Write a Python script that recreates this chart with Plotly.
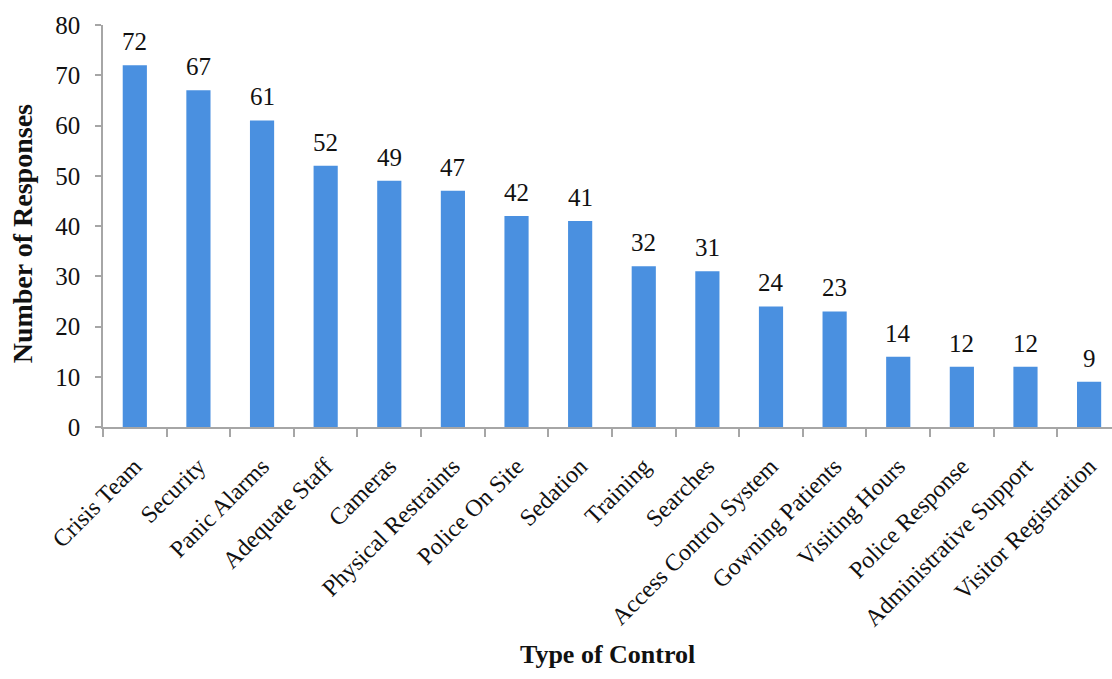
import plotly.graph_objects as go

categories = [
    "Crisis Team", "Security", "Panic Alarms", "Adequate Staff", "Cameras",
    "Physical Restraints", "Police On Site", "Sedation", "Training", "Searches",
    "Access Control System", "Gowning Patients", "Visiting Hours",
    "Police Response", "Administrative Support", "Visitor Registration",
]
responses = [72, 67, 61, 52, 49, 47, 42, 41, 32, 31, 24, 23, 14, 12, 12, 9]
y_ticks = [0, 10, 20, 30, 40, 50, 60, 70, 80]

SERIF = "Liberation Serif"
BAR_COLOR = "#4a90e0"
AXIS_COLOR = "#a6a6a6"

fig = go.Figure()
fig.add_trace(go.Bar(
    x=categories,
    y=responses,
    marker=dict(color=BAR_COLOR, line=dict(width=0)),
    width=0.38,
    hoverinfo="x+y",
))

# value labels above each bar
for cat, val in zip(categories, responses):
    fig.add_annotation(
        x=cat, y=val, text=str(val), showarrow=False,
        xref="x", yref="y", yanchor="bottom", yshift=8,
        font=dict(family=SERIF, size=25, color="#111111"),
    )

# axis titles
fig.add_annotation(
    text="<b>Number of Responses</b>", xref="paper", yref="paper",
    x=-0.080, y=0.48, textangle=-90, showarrow=False,
    xanchor="center", yanchor="middle",
    font=dict(family=SERIF, size=28, color="#111111"),
)
fig.add_annotation(
    text="<b>Type of Control</b>", xref="paper", yref="paper",
    x=0.5, y=-0.567, showarrow=False,
    xanchor="center", yanchor="middle",
    font=dict(family=SERIF, size=26, color="#111111"),
)

fig.update_layout(
    width=1112, height=679,
    margin=dict(l=103, r=0, t=25, b=252),
    paper_bgcolor="white", plot_bgcolor="white",
    showlegend=False,
    xaxis=dict(
        type="category",
        range=[-0.5, 15.36],
        tickson="boundaries",
        ticks="outside", ticklen=8, tickcolor=AXIS_COLOR, tickwidth=1.5,
        showline=True, linecolor=AXIS_COLOR, linewidth=1.5,
        showgrid=False, zeroline=False,
        tickangle=-45,
        tickfont=dict(family=SERIF, size=24, color="#111111"),
        ticklabelstandoff=14,
        automargin=False,
    ),
    yaxis=dict(
        range=[0, 80],
        tickvals=y_ticks,
        ticks="outside", ticklen=6, tickcolor=AXIS_COLOR, tickwidth=1.5,
        showline=True, linecolor=AXIS_COLOR, linewidth=1.5,
        showgrid=False, zeroline=False,
        tickfont=dict(family=SERIF, size=25, color="#111111"),
        ticklabelstandoff=10,
        automargin=False,
    ),
)

fig.write_html("out.html")
